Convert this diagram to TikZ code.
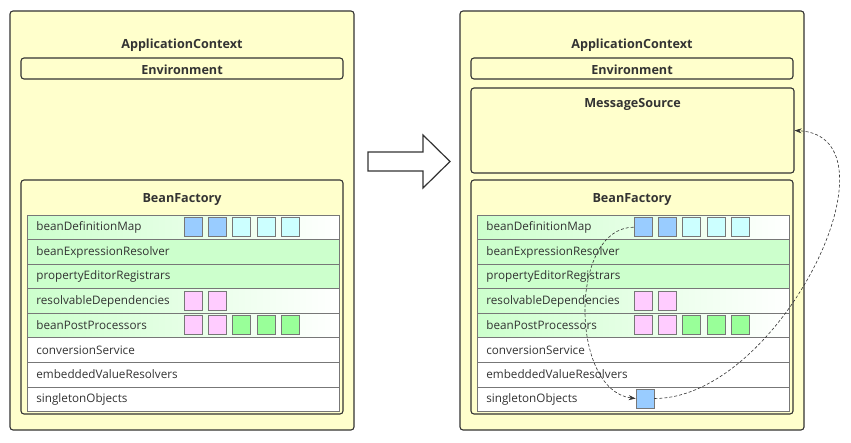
\documentclass[tikz,border=0pt]{standalone}
\usepackage{fontspec}
\setmainfont{Open Sans}
\usetikzlibrary{arrows.meta}

\definecolor{ctxyellow}{HTML}{FFFFCC}
\definecolor{boxline}{HTML}{333333}
\definecolor{rowline}{HTML}{777777}
\definecolor{rowgreen}{HTML}{CCFFCC}
\definecolor{sqblue}{HTML}{99CCFF}
\definecolor{sqcyan}{HTML}{CCFFFF}
\definecolor{sqpink}{HTML}{FFCCFF}
\definecolor{sqgreen}{HTML}{99FF99}

\tikzset{
  ctxbox/.style={draw=boxline, fill=ctxyellow, rounded corners=3pt, line width=1.1pt, inner sep=0pt},
  boxtitle/.style={font=\bfseries\fontsize{12.6}{14}\selectfont, text=boxline},
  rowbox/.style={draw=rowline, line width=0.7pt, anchor=north west, minimum width=312pt,
    minimum height=24.5pt, inner xsep=9pt, text width=294pt, align=left,
    font=\fontsize{11.7}{13}\selectfont, text=boxline},
  fadegreen/.style={left color=rowgreen, right color=white},
  plaingreen/.style={fill=rowgreen},
  plainwhite/.style={fill=white},
  sq/.style={draw=rowline, line width=0.7pt, minimum width=18pt, minimum height=19pt, inner sep=0pt},
  link/.style={draw=boxline, dash pattern=on 3pt off 2pt, line width=0.6pt, -{Stealth[length=7pt,width=5pt]}},
}

\begin{document}
\begin{tikzpicture}[x=1pt,y=-1pt]
  \useasboundingbox[fill=white] (0,0) rectangle (851,443);
  %
  \foreach \p/\dx in {L/0,R/450} {
    % outer box
    \node[ctxbox, minimum width=344pt, minimum height=419pt] (\p-ctx) at ({\dx+182},220.5) {};
    \node[boxtitle] (\p-ctxt) at ({\dx+182},45) {ApplicationContext};
    %
    \node[ctxbox, minimum width=322pt, minimum height=21pt] (\p-env) at ({\dx+182},68.5) {};
    \node[boxtitle] (\p-envt) at ([yshift=-1pt]\p-env.center) {Environment};
    %
    \node[ctxbox, minimum width=322pt, minimum height=234pt] (\p-bf) at ({\dx+182},297) {};
    \node[boxtitle] (\p-bft) at ({\dx+182},200) {BeanFactory};
    %
    \foreach \txt/\sty [count=\i] in {beanDefinitionMap/fadegreen, beanExpressionResolver/plaingreen,
        propertyEditorRegistrars/plaingreen, resolvableDependencies/fadegreen,
        beanPostProcessors/fadegreen, conversionService/plainwhite,
        embeddedValueResolvers/plainwhite, singletonObjects/plainwhite} {
      \node[rowbox, \sty] (\p-row\i) at ({\dx+27},{215+24.5*(\i-1)}) {\txt};
    }
    %
    \foreach \i/\cols in {1/{sqblue,sqblue,sqcyan,sqcyan,sqcyan}, 4/{sqpink,sqpink},
        5/{sqpink,sqpink,sqgreen,sqgreen,sqgreen}} {
      \foreach \c [count=\k] in \cols {
        \node[sq, fill=\c] (\p-\i-\k) at ({\dx+193+24.4*(\k-1)},{215+24.5*(\i-0.5)}) {};
      }
    }
  }
  %
  \node[ctxbox, minimum width=323pt, minimum height=85pt] (R-msg) at (632.5,130.5) {};
  \node[boxtitle] (R-msgt) at (632.5,104) {MessageSource};
  \node[sq, fill=sqblue] (R-8-1) at (645,398.5) {};
  %
  \draw[line width=1.2pt, draw=boxline, fill=white] (368,152) -- (423,152) -- (423,135)
    -- (450,161.5) -- (423,188) -- (423,171) -- (368,171) -- cycle;
  %
  \draw[link] (R-1-1.west) .. controls +(-65,0) and +(-66,-8) .. (R-8-1.west);
  \draw[link] (R-8-1.east) .. controls +(126,0) and +(112,6) .. (R-msg.east);
\end{tikzpicture}
\end{document}
